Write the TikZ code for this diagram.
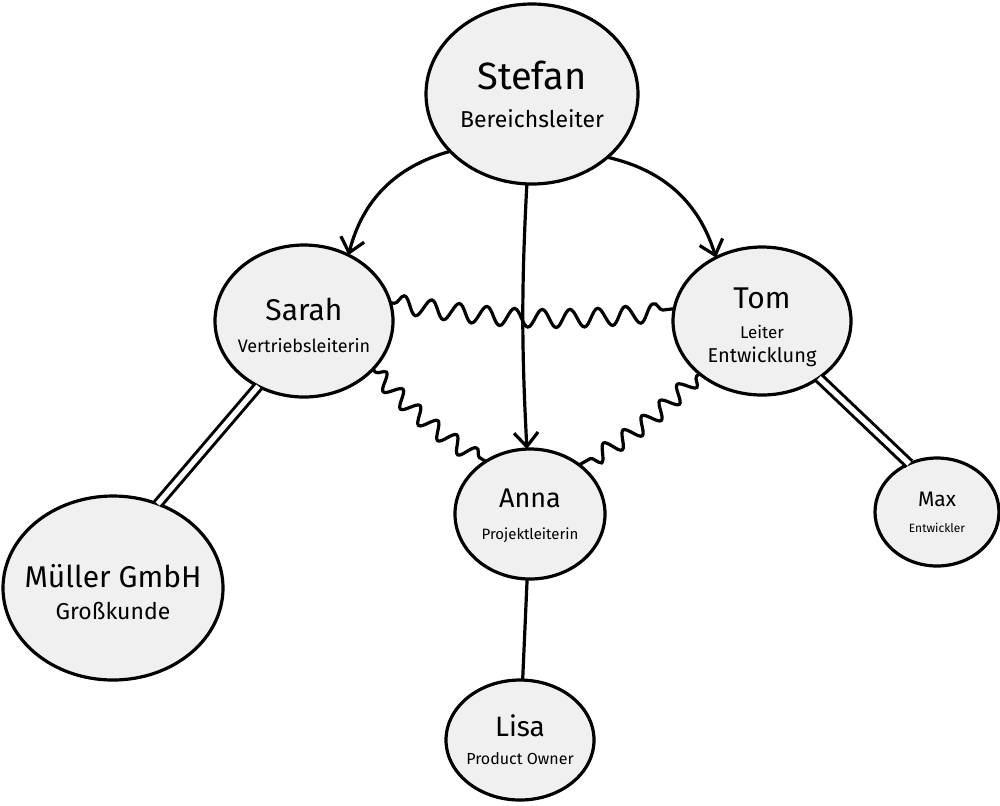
\documentclass[tikz,border=0pt]{standalone}
\usepackage{fontspec}
\setmainfont{Fira Sans}
\usetikzlibrary{shapes.geometric,arrows.meta,decorations.pathmorphing}

\tikzset{
  person/.style={ellipse, draw, line width=1.6pt, fill=black!6, inner sep=0pt, outer sep=0pt},
  boss/.style={-{Straight Barb[length=7pt,width=12pt,line width=1.6pt]}, line width=1.6pt},
  conflict/.style={line width=1.6pt,
    decorate, decoration={snake, segment length=14pt, amplitude=4.5pt, pre length=2pt, post length=2pt}},
  tight/.style={line width=1.5pt, double=white, double distance=2.6pt},
  plain/.style={line width=1.6pt}
}
\newcommand{\who}[4]{{\fontsize{#3}{#3}\selectfont #1}\\[4pt]\fontsize{#4}{#4}\selectfont #2}

\begin{document}
\begin{tikzpicture}[x=0.5pt,y=-0.5pt]
  \useasboundingbox (0,0) rectangle (1000,805);

  \node[person, minimum width=106pt, minimum height=90pt,
    label={[align=center]center:{{\fontsize{19pt}{19pt}\selectfont Stefan}\\[7pt]\fontsize{11.5pt}{11.5pt}\selectfont Bereichsleiter}}] (stefan) at (532,94) {};
  \node[person, minimum width=89pt, minimum height=76pt,
    label={[align=center, yshift=-2pt]center:\who{Sarah}{Vertriebsleiterin}{15pt}{9pt}}] (sarah) at (304,321) {};
  \node[person, minimum width=89pt, minimum height=74pt,
    label={[align=center, yshift=-3pt]center:{{\fontsize{15pt}{15pt}\selectfont Tom}\\[3pt]\fontsize{8.5pt}{10pt}\selectfont Leiter\\Entwicklung}}] (tom) at (762,321) {};
  \node[person, minimum width=75pt, minimum height=65pt,
    label={[align=center, yshift=-1pt]center:\who{Anna}{Projektleiterin}{13.5pt}{7.5pt}}] (anna) at (530,514) {};
  \node[person, minimum width=110pt, minimum height=92pt,
    label={[align=center, yshift=-2pt]center:\who{Müller GmbH}{Großkunde}{15pt}{11.5pt}}] (mueller) at (113,588) {};
  \node[person, minimum width=62pt, minimum height=54pt,
    label={[align=center]center:{{\fontsize{10.5pt}{10.5pt}\selectfont Max}\\[1pt]\fontsize{6pt}{6pt}\selectfont Entwickler}}] (max) at (937,512) {};
  \node[person, minimum width=74pt, minimum height=60pt,
    label={[align=center]center:{{\fontsize{14pt}{14pt}\selectfont Lisa}\\[2pt]\fontsize{8pt}{8pt}\selectfont Product Owner}}] (lisa) at (520,740) {};

  \draw[boss] (stefan.-145) to[bend right=30] (sarah.56);
  \draw[boss] (stefan) to[bend right=3] (anna);
  \draw[boss] (stefan.-40) to[bend left=30] (tom.126);

  \draw[conflict] (sarah.12) to[bend right=8] (tom.172);
  \draw[conflict, decoration={amplitude=4pt, segment length=12pt}] (sarah.-35) to[bend right=8] (anna.130);
  \draw[conflict, decoration={amplitude=4pt, segment length=12pt}] (tom.-140) to[bend left=8] (anna.45);

  \draw[tight] (sarah.-125) -- (mueller.62);
  \draw[tight] (tom.-45) -- (max.120);
  \draw[plain] (anna) -- (lisa);
\end{tikzpicture}
\end{document}
